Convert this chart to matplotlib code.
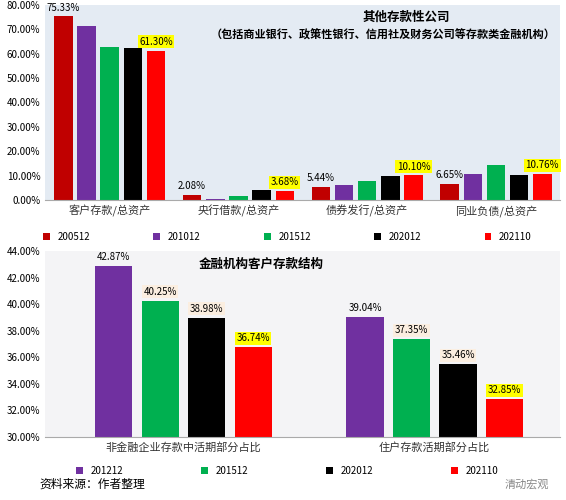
import numpy as np
import matplotlib.pyplot as plt

plt.rcParams['font.family'] = ['Noto Sans CJK SC', 'DejaVu Sans']

top_cats = ["客户存款/总资产", "央行借款/总资产", "债券发行/总资产", "同业负债/总资产"]
top_series = ["200512", "201012", "201512", "202012", "202110"]
top_colors = ["#c00000", "#7030a0", "#00b050", "#000000", "#ff0000"]
top_vals = [
    [75.33, 2.08, 5.44, 6.65],
    [71.5, 0.6, 6.2, 10.5],
    [62.8, 1.5, 8.0, 14.5],
    [62.2, 4.0, 9.8, 10.3],
    [61.30, 3.68, 10.10, 10.76],
]

bot_cats = ["非金融企业存款中活期部分占比", "住户存款活期部分占比"]
bot_series = ["201212", "201512", "202012", "202110"]
bot_colors = ["#7030a0", "#00b050", "#000000", "#ff0000"]
bot_vals = [
    [42.87, 39.04],
    [40.25, 37.35],
    [38.98, 35.46],
    [36.74, 32.85],
]

fig = plt.figure(figsize=(5.66, 5.0), dpi=100)
fig.patch.set_facecolor("white")

# top chart
ax = fig.add_axes([0.08, 0.60, 0.91, 0.39])
ax.set_facecolor("#e4ebf3")
x = np.arange(len(top_cats))
w = 0.18
for i, (name, col, vals) in enumerate(zip(top_series, top_colors, top_vals)):
    pos = x + (i - 2) * w
    ax.bar(pos, vals, w * 0.8, color=col, label=name)
    if i == 0:
        for p, v in zip(pos, vals):
            ax.text(p, v + 1.5, f"{v:.2f}%", ha="center", va="bottom", fontsize=7)
    if i == 4:
        for p, v in zip(pos, vals):
            ax.text(p, v + 1.5, f"{v:.2f}%", ha="center", va="bottom", fontsize=7,
                    bbox=dict(boxstyle="square,pad=0.15", fc="yellow", ec="none"))
ax.set_ylim(0, 80)
ax.set_yticks(np.arange(0, 81, 10))
ax.set_yticklabels([f"{t:.2f}%" for t in np.arange(0, 81, 10)], fontsize=7)
ax.set_xticks(x)
ax.set_xticklabels(top_cats, fontsize=8, color="#333333")
ax.set_xlim(-0.5, 3.5)
for s in ["top", "right", "left"]:
    ax.spines[s].set_visible(False)
ax.spines["bottom"].set_color("#aaaaaa")
ax.tick_params(length=0)
ax.text(0.70, 0.97, "其他存款性公司", transform=ax.transAxes, ha="center", va="top",
        fontsize=9, fontweight="bold")
ax.text(0.655, 0.88, "（包括商业银行、政策性银行、信用社及财务公司等存款类金融机构）",
        transform=ax.transAxes, ha="center", va="top", fontsize=8, fontweight="bold")
ax.legend(loc="upper center", bbox_to_anchor=(0.47, -0.12), ncol=5, frameon=False,
          fontsize=7, handlelength=0.7, handleheight=0.7, columnspacing=6.5)

# bottom chart
ax2 = fig.add_axes([0.08, 0.126, 0.91, 0.372])
ax2.set_facecolor("#f4f4f6")
x2 = np.arange(len(bot_cats))
w2 = 0.185
boxes = [None, "#fbeee0", "#fbeee0", "yellow"]
for i, (name, col, vals) in enumerate(zip(bot_series, bot_colors, bot_vals)):
    pos = x2 + (i - 1.5) * w2
    ax2.bar(pos, vals, w2 * 0.8, color=col, label=name)
    for p, v in zip(pos, vals):
        kw = {}
        if boxes[i]:
            kw["bbox"] = dict(boxstyle="square,pad=0.15", fc=boxes[i], ec="none")
        ax2.text(p, v + 0.3, f"{v:.2f}%", ha="center", va="bottom", fontsize=7, **kw)
ax2.set_ylim(30, 44)
yt = np.arange(30, 45, 2)
ax2.set_yticks(yt)
ax2.set_yticklabels([f"{t:.2f}%" for t in yt], fontsize=7)
ax2.set_xticks(x2)
ax2.set_xticklabels(bot_cats, fontsize=8, color="#333333")
ax2.set_xlim(-0.55, 1.5)
for s in ["top", "right", "left"]:
    ax2.spines[s].set_visible(False)
ax2.spines["bottom"].set_color("#aaaaaa")
ax2.tick_params(length=0)
ax2.text(0.42, 0.96, "金融机构客户存款结构", transform=ax2.transAxes, ha="center", va="top",
         fontsize=9, fontweight="bold")
ax2.legend(loc="upper center", bbox_to_anchor=(0.47, -0.11), ncol=4, frameon=False,
           fontsize=7, handlelength=0.7, handleheight=0.7, columnspacing=8)

fig.text(0.07, 0.025, "资料来源：作者整理", fontsize=8.5)
fig.text(0.97, 0.025, "清动宏观", fontsize=8, color="#888888", ha="right")

fig.savefig("out.png", dpi=100)
